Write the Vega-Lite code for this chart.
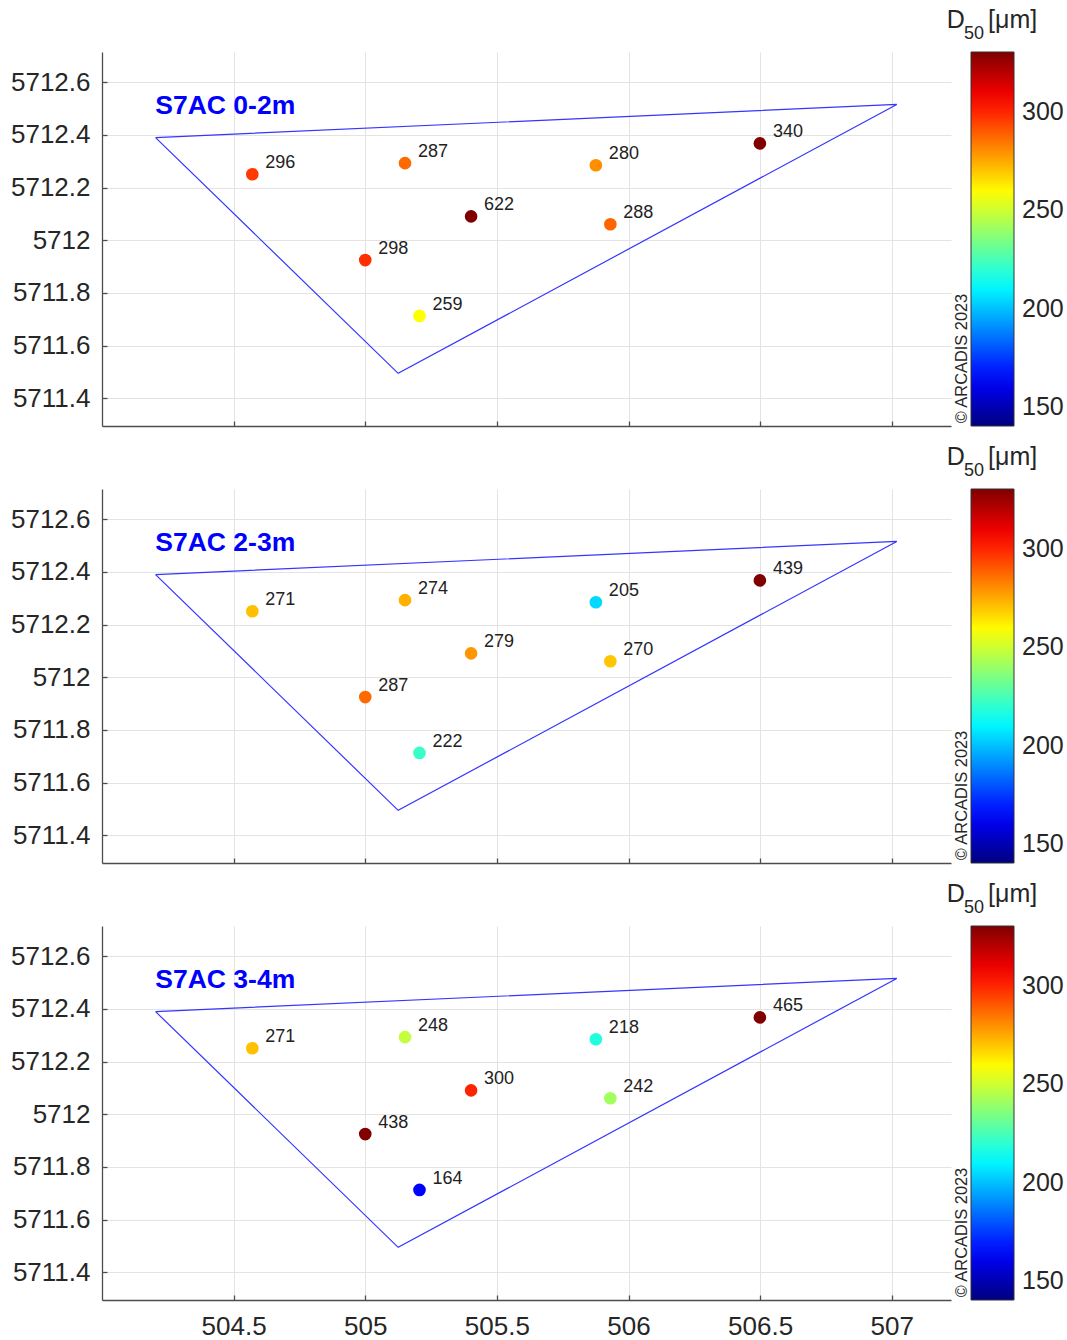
{
  "$schema": "https://vega.github.io/schema/vega-lite/v6.json",
  "background": "white",
  "padding": {"left": 10, "top": 7, "right": 0, "bottom": 0},
  "config": {
    "view": {"stroke": null},
    "font": "Liberation Sans",
    "axis": {
      "domainColor": "#4d4d4d", "domainWidth": 1.3,
      "tickColor": "#4d4d4d", "tickWidth": 1.3, "tickSize": -5,
      "gridColor": "#e3e3e3", "gridWidth": 1,
      "labelFont": "Liberation Sans", "labelFontSize": 26, "labelColor": "#262626",
      "labelOverlap": false, "labelFlush": false
    },
    "legend": {
      "orient": "right", "offset": 20, "padding": 0,
      "gradientLength": 374, "gradientThickness": 43,
      "gradientStrokeColor": "#333333", "gradientStrokeWidth": 1,
      "labelFont": "Liberation Sans", "labelFontSize": 25, "labelColor": "#262626"
    }
  },
  "datasets": {
    "tri": [
      {"i": 0, "x": 504.2035, "y": 5712.390},
      {"i": 1, "x": 507.019, "y": 5712.516},
      {"i": 2, "x": 505.125, "y": 5711.495},
      {"i": 3, "x": 504.2035, "y": 5712.390}
    ],
    "pts": [
      {"panel": 1, "x": 504.571, "y": 5712.251, "d50": 296},
      {"panel": 1, "x": 505.151, "y": 5712.293, "d50": 287},
      {"panel": 1, "x": 505.876, "y": 5712.285, "d50": 280},
      {"panel": 1, "x": 506.499, "y": 5712.368, "d50": 340},
      {"panel": 1, "x": 505.402, "y": 5712.091, "d50": 622},
      {"panel": 1, "x": 505.931, "y": 5712.061, "d50": 288},
      {"panel": 1, "x": 505.000, "y": 5711.925, "d50": 298},
      {"panel": 1, "x": 505.206, "y": 5711.713, "d50": 259},
      {"panel": 2, "x": 504.571, "y": 5712.251, "d50": 271},
      {"panel": 2, "x": 505.151, "y": 5712.293, "d50": 274},
      {"panel": 2, "x": 505.876, "y": 5712.285, "d50": 205},
      {"panel": 2, "x": 506.499, "y": 5712.368, "d50": 439},
      {"panel": 2, "x": 505.402, "y": 5712.091, "d50": 279},
      {"panel": 2, "x": 505.931, "y": 5712.061, "d50": 270},
      {"panel": 2, "x": 505.000, "y": 5711.925, "d50": 287},
      {"panel": 2, "x": 505.206, "y": 5711.713, "d50": 222},
      {"panel": 3, "x": 504.571, "y": 5712.251, "d50": 271},
      {"panel": 3, "x": 505.151, "y": 5712.293, "d50": 248},
      {"panel": 3, "x": 505.876, "y": 5712.285, "d50": 218},
      {"panel": 3, "x": 506.499, "y": 5712.368, "d50": 465},
      {"panel": 3, "x": 505.402, "y": 5712.091, "d50": 300},
      {"panel": 3, "x": 505.931, "y": 5712.061, "d50": 242},
      {"panel": 3, "x": 505.000, "y": 5711.925, "d50": 438},
      {"panel": 3, "x": 505.206, "y": 5711.713, "d50": 164}
    ]
  },
  "spacing": 63,
  "bounds": "flush",
  "resolve": {"scale": {"color": "independent"}, "legend": {"color": "independent"}},
  "vconcat": [
    {
      "width": 849, "height": 374,
      "layer": [
        {
          "data": {"name": "tri"},
          "mark": {"type": "line", "color": "#3535ff", "strokeWidth": 1.2},
          "encoding": {
            "x": {"field": "x", "type": "quantitative", "scale": {"domain": [504.0, 507.225], "nice": false, "zero": false},
                  "axis": {"values": [504.5, 505, 505.5, 506, 506.5, 507], "labels": false, "title": null, "grid": true}},
            "y": {"field": "y", "type": "quantitative", "scale": {"domain": [5711.295, 5712.715], "nice": false, "zero": false},
                  "axis": {"values": [5711.4, 5711.6, 5711.8, 5712, 5712.2, 5712.4, 5712.6], "format": "~f", "labelPadding": 17, "title": null, "grid": true}},
            "order": {"field": "i", "type": "quantitative"}
          }
        },
        {
          "data": {"name": "pts"},
          "transform": [{"filter": "datum.panel == 1"}],
          "mark": {"type": "circle", "size": 160, "opacity": 1},
          "encoding": {
            "x": {"field": "x", "type": "quantitative"},
            "y": {"field": "y", "type": "quantitative"},
            "color": {"field": "d50", "type": "quantitative",
              "scale": {"domain": [140.6, 164.3, 211.8, 259.2, 306.7, 330.4], "range": ["#000080", "#0000ff", "#00ffff", "#ffff00", "#ff0000", "#800000"], "clamp": true, "interpolate": "rgb"},
              "legend": {"title": null, "values": [150, 200, 250, 300], "direction": "vertical", "labelOffset": 8}}
          }
        },
        {
          "data": {"name": "pts"},
          "transform": [{"filter": "datum.panel == 1"}],
          "mark": {"type": "text", "align": "left", "baseline": "middle", "dx": 13, "dy": -11, "fontSize": 18, "color": "#222222"},
          "encoding": {
            "x": {"field": "x", "type": "quantitative"},
            "y": {"field": "y", "type": "quantitative"},
            "text": {"field": "d50", "type": "nominal"}
          }
        },
        {
          "data": {"values": [{"t": "S7AC 0-2m"}]},
          "mark": {"type": "text", "align": "left", "baseline": "middle", "fontSize": 26.5, "fontWeight": "bold", "color": "#0000ff"},
          "encoding": {"x": {"datum": 504.2025, "type": "quantitative"}, "y": {"datum": 5712.509, "type": "quantitative"}, "text": {"field": "t"}}
        },
        {
          "data": {"values": [{"t": "© ARCADIS 2023"}]},
          "mark": {"type": "text", "align": "left", "baseline": "middle", "angle": 270, "fontSize": 16.4, "color": "#262626"},
          "encoding": {"x": {"datum": 507.266, "type": "quantitative"}, "y": {"datum": 5711.305, "type": "quantitative"}, "text": {"field": "t"}}
        },
        {
          "data": {"values": [{"t": "D"}]},
          "mark": {"type": "text", "align": "left", "baseline": "alphabetic", "fontSize": 25, "color": "#262626"},
          "encoding": {"x": {"datum": 507.209, "type": "quantitative"}, "y": {"datum": 5712.807, "type": "quantitative"}, "text": {"field": "t"}}
        },
        {
          "data": {"values": [{"t": "50"}]},
          "mark": {"type": "text", "align": "left", "baseline": "alphabetic", "fontSize": 18, "color": "#262626"},
          "encoding": {"x": {"datum": 507.274, "type": "quantitative"}, "y": {"datum": 5712.763, "type": "quantitative"}, "text": {"field": "t"}}
        },
        {
          "data": {"values": [{"t": "[μm]"}]},
          "mark": {"type": "text", "align": "left", "baseline": "alphabetic", "fontSize": 25, "color": "#262626"},
          "encoding": {"x": {"datum": 507.366, "type": "quantitative"}, "y": {"datum": 5712.807, "type": "quantitative"}, "text": {"field": "t"}}
        }
      ]
    },
    {
      "width": 849, "height": 374,
      "layer": [
        {
          "data": {"name": "tri"},
          "mark": {"type": "line", "color": "#3535ff", "strokeWidth": 1.2},
          "encoding": {
            "x": {"field": "x", "type": "quantitative", "scale": {"domain": [504.0, 507.225], "nice": false, "zero": false},
                  "axis": {"values": [504.5, 505, 505.5, 506, 506.5, 507], "labels": false, "title": null, "grid": true}},
            "y": {"field": "y", "type": "quantitative", "scale": {"domain": [5711.295, 5712.715], "nice": false, "zero": false},
                  "axis": {"values": [5711.4, 5711.6, 5711.8, 5712, 5712.2, 5712.4, 5712.6], "format": "~f", "labelPadding": 17, "title": null, "grid": true}},
            "order": {"field": "i", "type": "quantitative"}
          }
        },
        {
          "data": {"name": "pts"},
          "transform": [{"filter": "datum.panel == 2"}],
          "mark": {"type": "circle", "size": 160, "opacity": 1},
          "encoding": {
            "x": {"field": "x", "type": "quantitative"},
            "y": {"field": "y", "type": "quantitative"},
            "color": {"field": "d50", "type": "quantitative",
              "scale": {"domain": [140.6, 164.3, 211.8, 259.2, 306.7, 330.4], "range": ["#000080", "#0000ff", "#00ffff", "#ffff00", "#ff0000", "#800000"], "clamp": true, "interpolate": "rgb"},
              "legend": {"title": null, "values": [150, 200, 250, 300], "direction": "vertical", "labelOffset": 8}}
          }
        },
        {
          "data": {"name": "pts"},
          "transform": [{"filter": "datum.panel == 2"}],
          "mark": {"type": "text", "align": "left", "baseline": "middle", "dx": 13, "dy": -11, "fontSize": 18, "color": "#222222"},
          "encoding": {
            "x": {"field": "x", "type": "quantitative"},
            "y": {"field": "y", "type": "quantitative"},
            "text": {"field": "d50", "type": "nominal"}
          }
        },
        {
          "data": {"values": [{"t": "S7AC 2-3m"}]},
          "mark": {"type": "text", "align": "left", "baseline": "middle", "fontSize": 26.5, "fontWeight": "bold", "color": "#0000ff"},
          "encoding": {"x": {"datum": 504.2025, "type": "quantitative"}, "y": {"datum": 5712.509, "type": "quantitative"}, "text": {"field": "t"}}
        },
        {
          "data": {"values": [{"t": "© ARCADIS 2023"}]},
          "mark": {"type": "text", "align": "left", "baseline": "middle", "angle": 270, "fontSize": 16.4, "color": "#262626"},
          "encoding": {"x": {"datum": 507.266, "type": "quantitative"}, "y": {"datum": 5711.305, "type": "quantitative"}, "text": {"field": "t"}}
        },
        {
          "data": {"values": [{"t": "D"}]},
          "mark": {"type": "text", "align": "left", "baseline": "alphabetic", "fontSize": 25, "color": "#262626"},
          "encoding": {"x": {"datum": 507.209, "type": "quantitative"}, "y": {"datum": 5712.807, "type": "quantitative"}, "text": {"field": "t"}}
        },
        {
          "data": {"values": [{"t": "50"}]},
          "mark": {"type": "text", "align": "left", "baseline": "alphabetic", "fontSize": 18, "color": "#262626"},
          "encoding": {"x": {"datum": 507.274, "type": "quantitative"}, "y": {"datum": 5712.763, "type": "quantitative"}, "text": {"field": "t"}}
        },
        {
          "data": {"values": [{"t": "[μm]"}]},
          "mark": {"type": "text", "align": "left", "baseline": "alphabetic", "fontSize": 25, "color": "#262626"},
          "encoding": {"x": {"datum": 507.366, "type": "quantitative"}, "y": {"datum": 5712.807, "type": "quantitative"}, "text": {"field": "t"}}
        }
      ]
    },
    {
      "width": 849, "height": 374,
      "layer": [
        {
          "data": {"name": "tri"},
          "mark": {"type": "line", "color": "#3535ff", "strokeWidth": 1.2},
          "encoding": {
            "x": {"field": "x", "type": "quantitative", "scale": {"domain": [504.0, 507.225], "nice": false, "zero": false},
                  "axis": {"values": [504.5, 505, 505.5, 506, 506.5, 507], "format": "~f", "labelPadding": 18, "title": null, "grid": true}},
            "y": {"field": "y", "type": "quantitative", "scale": {"domain": [5711.295, 5712.715], "nice": false, "zero": false},
                  "axis": {"values": [5711.4, 5711.6, 5711.8, 5712, 5712.2, 5712.4, 5712.6], "format": "~f", "labelPadding": 17, "title": null, "grid": true}},
            "order": {"field": "i", "type": "quantitative"}
          }
        },
        {
          "data": {"name": "pts"},
          "transform": [{"filter": "datum.panel == 3"}],
          "mark": {"type": "circle", "size": 160, "opacity": 1},
          "encoding": {
            "x": {"field": "x", "type": "quantitative"},
            "y": {"field": "y", "type": "quantitative"},
            "color": {"field": "d50", "type": "quantitative",
              "scale": {"domain": [140.6, 164.3, 211.8, 259.2, 306.7, 330.4], "range": ["#000080", "#0000ff", "#00ffff", "#ffff00", "#ff0000", "#800000"], "clamp": true, "interpolate": "rgb"},
              "legend": {"title": null, "values": [150, 200, 250, 300], "direction": "vertical", "labelOffset": 8}}
          }
        },
        {
          "data": {"name": "pts"},
          "transform": [{"filter": "datum.panel == 3"}],
          "mark": {"type": "text", "align": "left", "baseline": "middle", "dx": 13, "dy": -11, "fontSize": 18, "color": "#222222"},
          "encoding": {
            "x": {"field": "x", "type": "quantitative"},
            "y": {"field": "y", "type": "quantitative"},
            "text": {"field": "d50", "type": "nominal"}
          }
        },
        {
          "data": {"values": [{"t": "S7AC 3-4m"}]},
          "mark": {"type": "text", "align": "left", "baseline": "middle", "fontSize": 26.5, "fontWeight": "bold", "color": "#0000ff"},
          "encoding": {"x": {"datum": 504.2025, "type": "quantitative"}, "y": {"datum": 5712.509, "type": "quantitative"}, "text": {"field": "t"}}
        },
        {
          "data": {"values": [{"t": "© ARCADIS 2023"}]},
          "mark": {"type": "text", "align": "left", "baseline": "middle", "angle": 270, "fontSize": 16.4, "color": "#262626"},
          "encoding": {"x": {"datum": 507.266, "type": "quantitative"}, "y": {"datum": 5711.305, "type": "quantitative"}, "text": {"field": "t"}}
        },
        {
          "data": {"values": [{"t": "D"}]},
          "mark": {"type": "text", "align": "left", "baseline": "alphabetic", "fontSize": 25, "color": "#262626"},
          "encoding": {"x": {"datum": 507.209, "type": "quantitative"}, "y": {"datum": 5712.807, "type": "quantitative"}, "text": {"field": "t"}}
        },
        {
          "data": {"values": [{"t": "50"}]},
          "mark": {"type": "text", "align": "left", "baseline": "alphabetic", "fontSize": 18, "color": "#262626"},
          "encoding": {"x": {"datum": 507.274, "type": "quantitative"}, "y": {"datum": 5712.763, "type": "quantitative"}, "text": {"field": "t"}}
        },
        {
          "data": {"values": [{"t": "[μm]"}]},
          "mark": {"type": "text", "align": "left", "baseline": "alphabetic", "fontSize": 25, "color": "#262626"},
          "encoding": {"x": {"datum": 507.366, "type": "quantitative"}, "y": {"datum": 5712.807, "type": "quantitative"}, "text": {"field": "t"}}
        }
      ]
    }
  ]
}
